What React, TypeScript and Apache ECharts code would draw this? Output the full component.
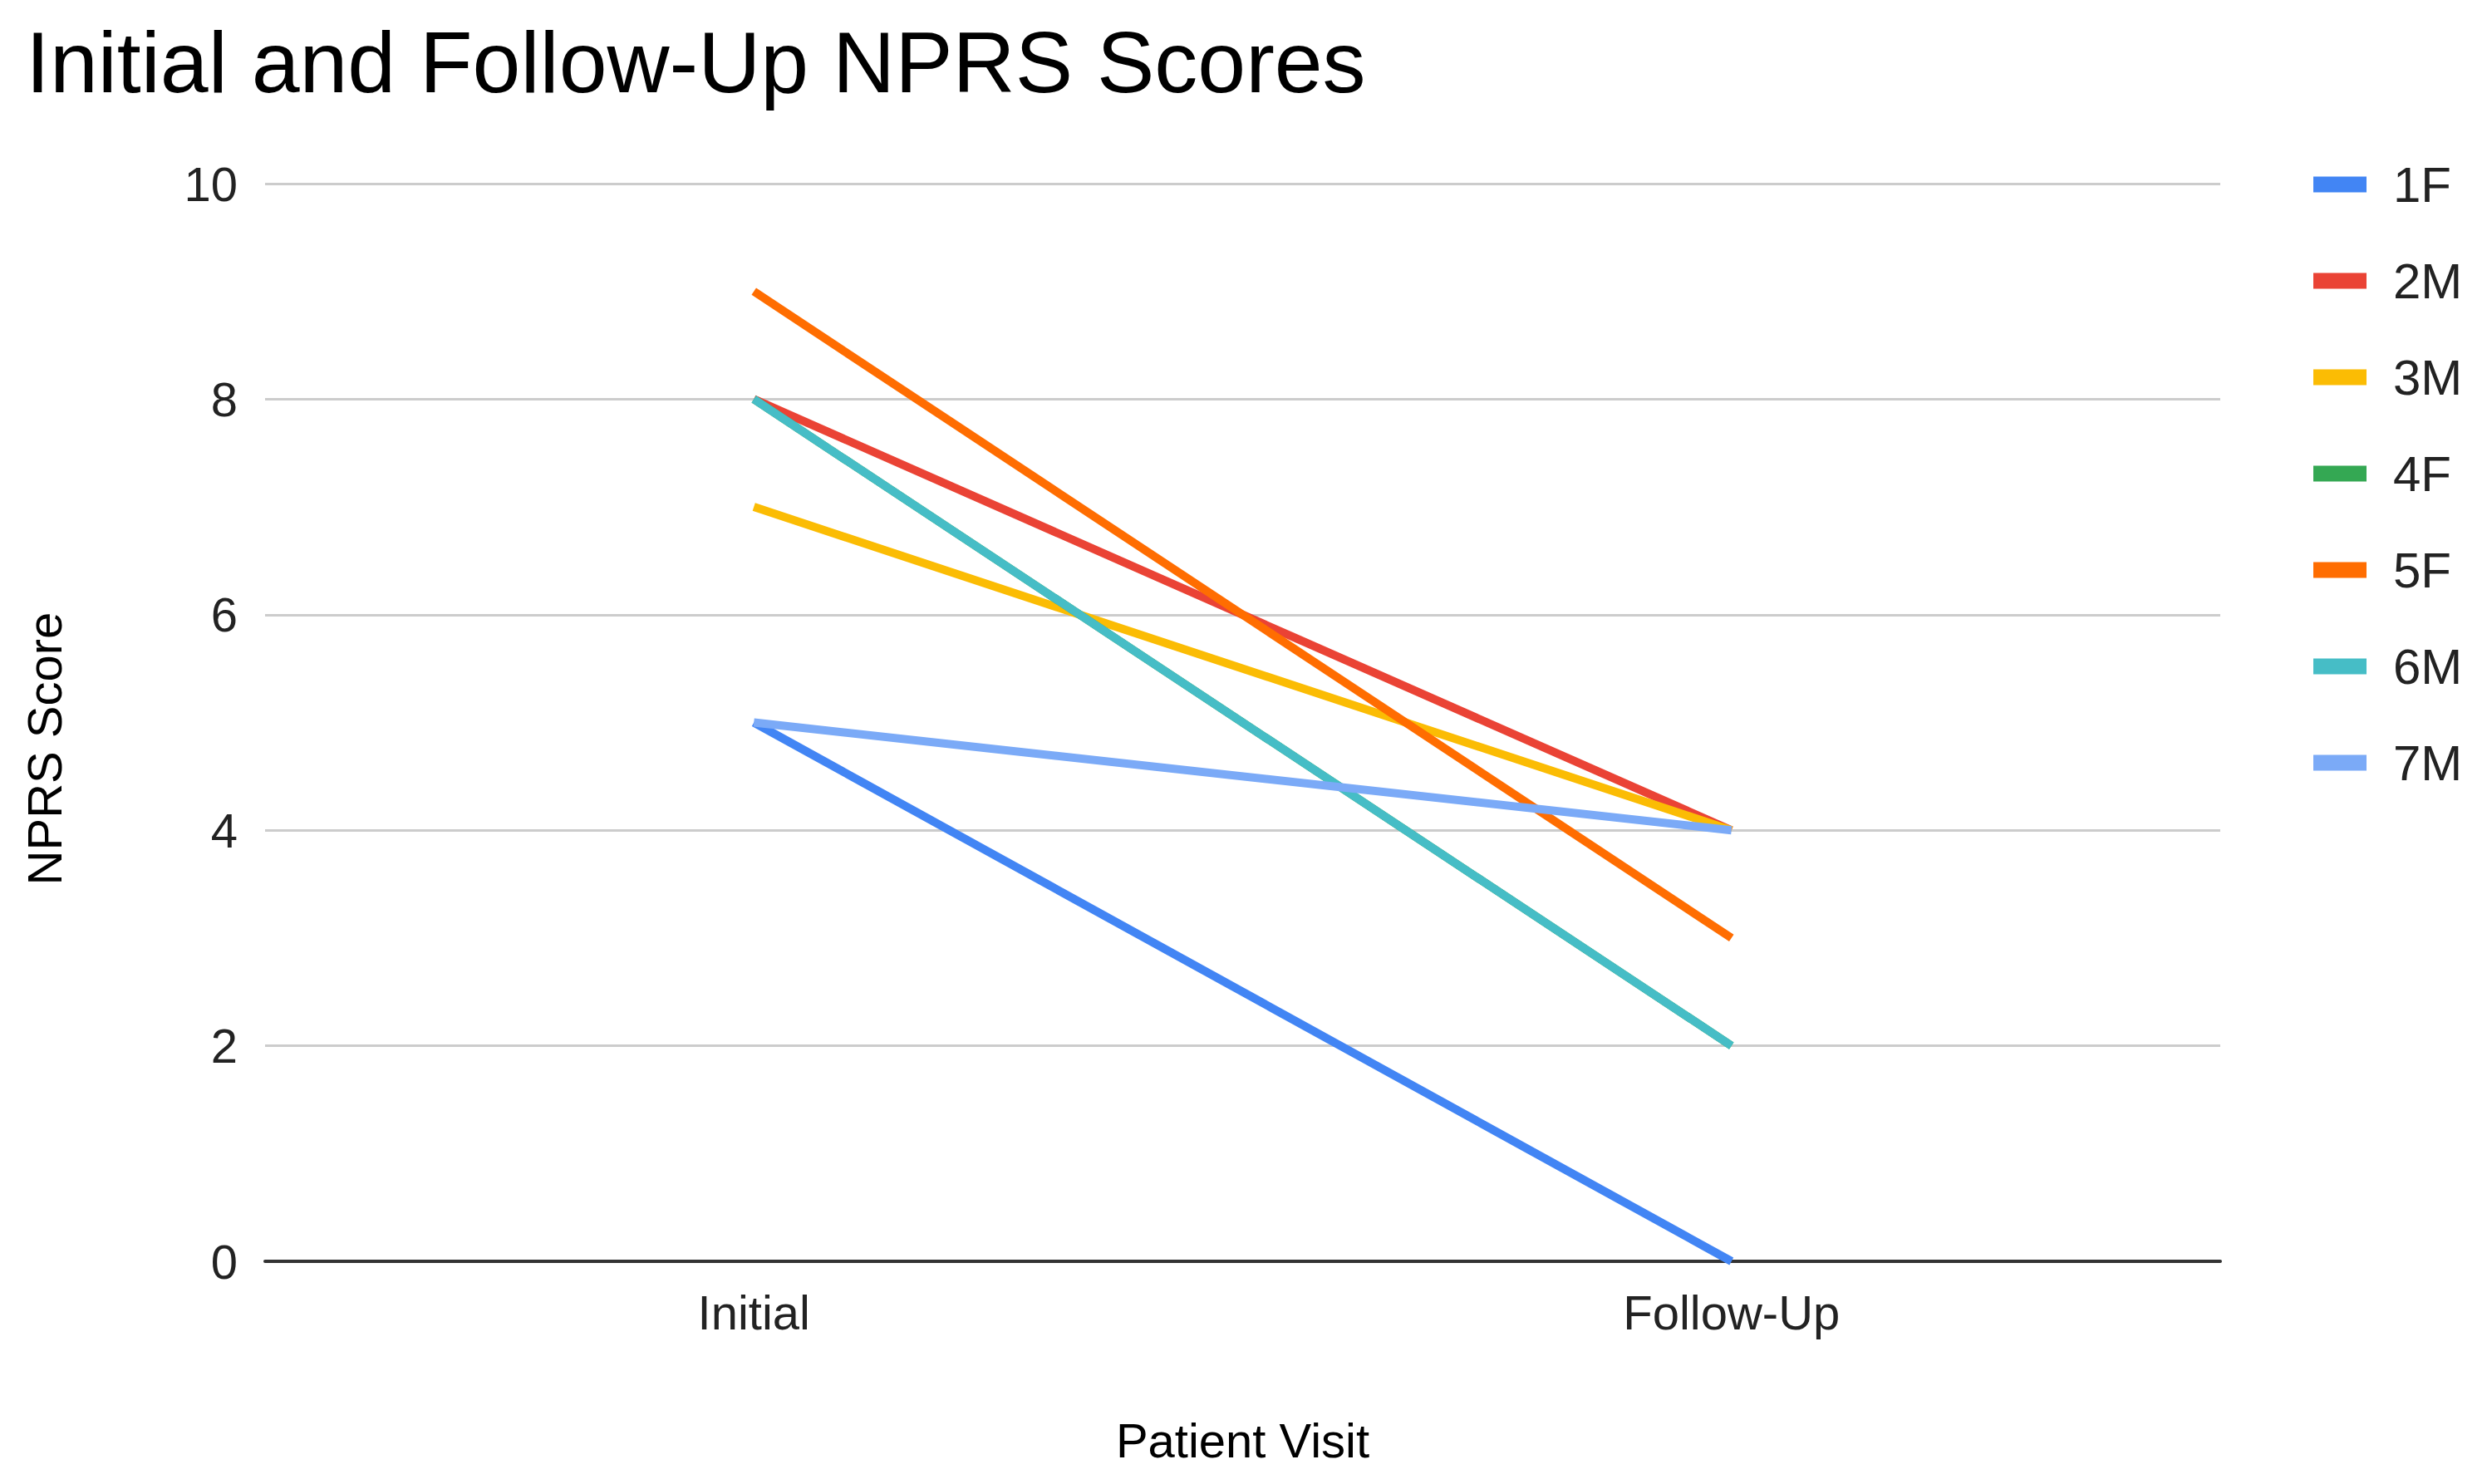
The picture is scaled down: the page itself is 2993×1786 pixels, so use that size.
import React, { useEffect, useRef } from "react";
import * as echarts from "echarts";

const categories = ["Initial", "Follow-Up"];
const seriesNames = ["1F", "2M", "3M", "4F", "5F", "6M", "7M"];
const values1F = [5, 0];
const values2M = [8, 4];
const values3M = [7, 4];
const values4F = [8, 2];
const values5F = [9, 3];
const values6M = [8, 2];
const values7M = [5, 4];
const seriesValues = [values1F, values2M, values3M, values4F, values5F, values6M, values7M];
const colors = ["#4285F4", "#EA4335", "#FBBC04", "#34A853", "#FF6D01", "#46BDC6", "#7BAAF7"];

const FONT = "Liberation Sans, Arial, sans-serif";

export default function App() {
  const ref = useRef<HTMLDivElement>(null);
  useEffect(() => {
    if (!ref.current) return;
    const chart = echarts.init(ref.current, undefined, { renderer: "svg" });
    chart.setOption({
      animation: false,
      color: colors,
      backgroundColor: "#ffffff",
      title: {
        text: "Initial and Follow-Up NPRS Scores",
        left: 26,
        top: 18,
        textStyle: { fontFamily: FONT, fontSize: 104, fontWeight: "normal", color: "#000" },
      },
      legend: {
        orient: "vertical",
        left: 2779,
        top: 187,
        icon: "rect",
        itemWidth: 64,
        itemHeight: 19,
        itemGap: 56,
        data: seriesNames,
        textStyle: { fontFamily: FONT, fontSize: 60, color: "#222", padding: [0, 0, 0, 27] },
      },
      grid: { left: 319, right: 321, top: 221, bottom: 268, containLabel: false },
      xAxis: {
        type: "category",
        data: categories,
        boundaryGap: true,
        axisTick: { show: false },
        axisLine: { show: true, lineStyle: { color: "#333", width: 4 } },
        axisLabel: { fontFamily: FONT, fontSize: 58, color: "#222", margin: 32 },
        name: "Patient Visit",
        nameLocation: "middle",
        nameGap: 186,
        nameTextStyle: { fontFamily: FONT, fontSize: 58, color: "#000" },
      },
      yAxis: {
        type: "value",
        min: 0,
        max: 10,
        interval: 2,
        axisLine: { show: false },
        axisTick: { show: false },
        splitLine: { lineStyle: { color: "#cccccc", width: 3 } },
        axisLabel: { fontFamily: FONT, fontSize: 58, color: "#222", margin: 33 },
      },
      graphic: [
        {
          type: "text",
          x: 53,
          y: 901,
          rotation: Math.PI / 2,
          style: {
            text: "NPRS Score",
            fontFamily: FONT,
            fontSize: 58,
            fill: "#000",
            textAlign: "center",
            textVerticalAlign: "middle",
          },
        },
      ],
      series: seriesNames.map((name, i) => ({
        name,
        type: "line",
        data: seriesValues[i],
        showSymbol: false,
        symbol: "none",
        lineStyle: { width: 10, color: colors[i] },
        itemStyle: { color: colors[i] },
      })),
    });
    return () => chart.dispose();
  }, []);
  return (
    <div
      ref={ref}
      style={{ position: "fixed", left: 0, top: 0, width: 2993, height: 1786, background: "#fff" }}
    />
  );
}
